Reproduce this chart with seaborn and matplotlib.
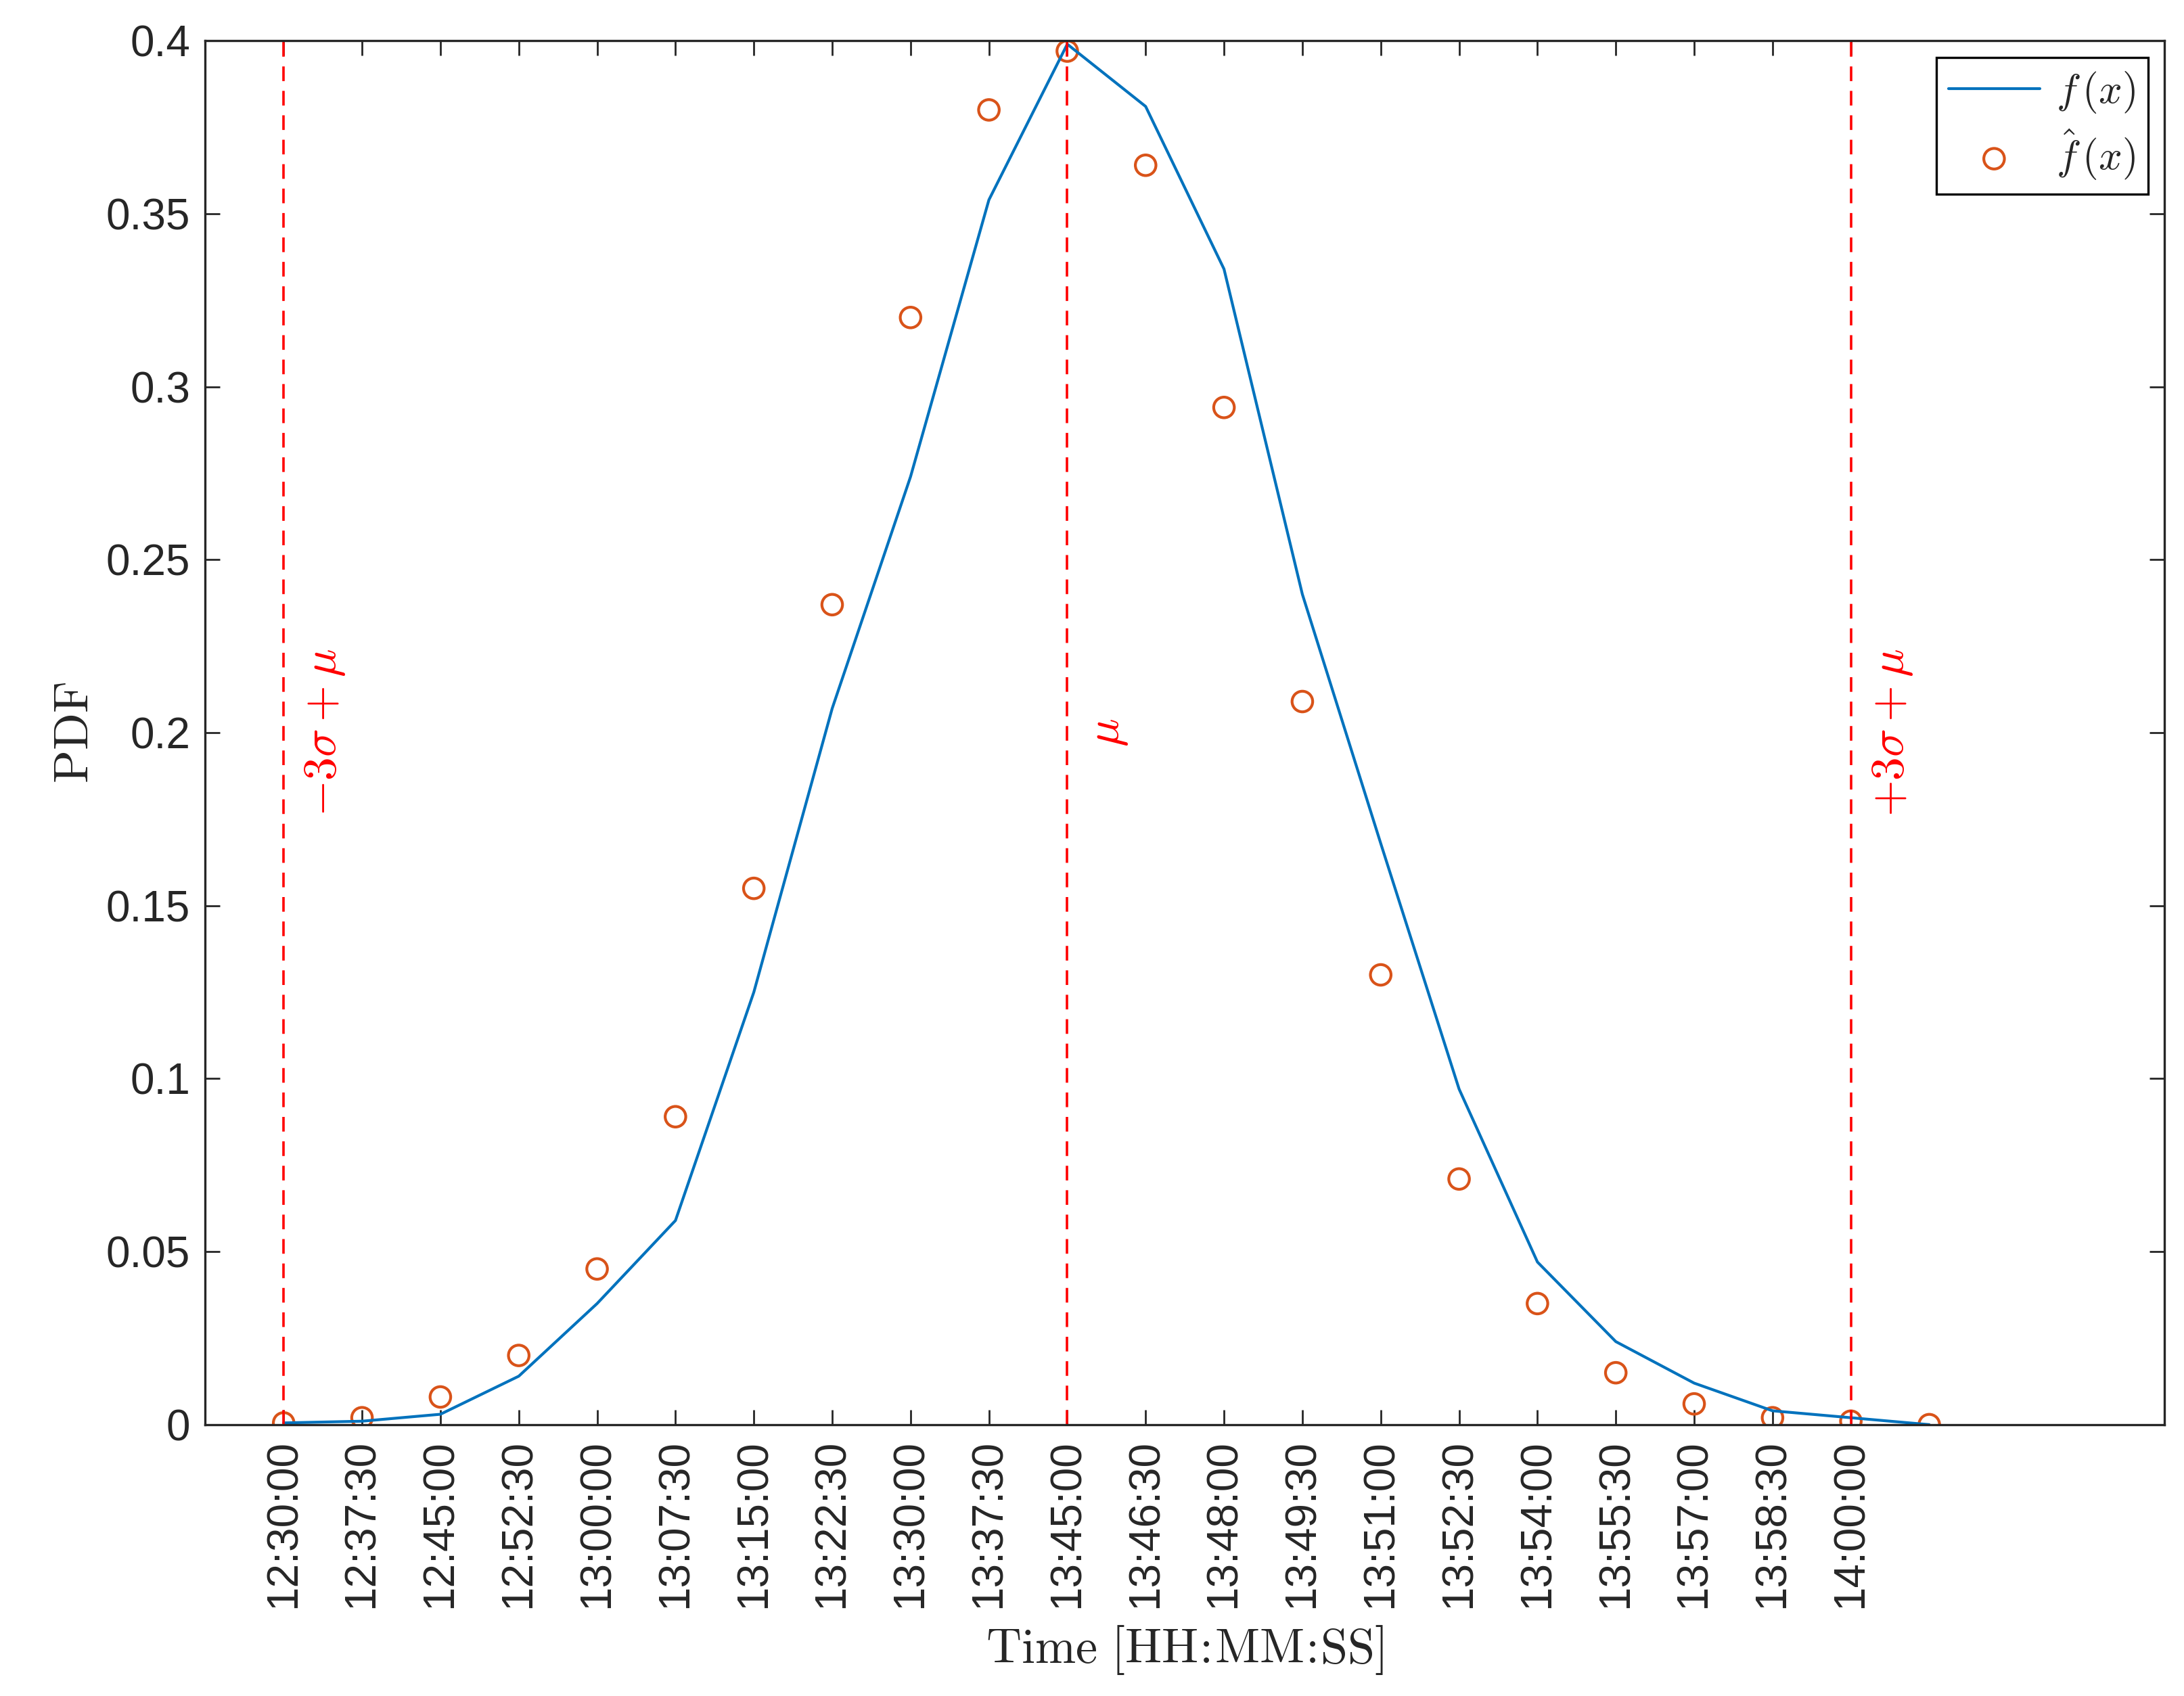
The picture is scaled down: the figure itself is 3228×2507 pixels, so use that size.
import matplotlib
matplotlib.use("Agg")
import matplotlib.pyplot as plt
import seaborn as sns
import numpy as np

tick_labels = ["12:30:00", "12:37:30", "12:45:00", "12:52:30", "13:00:00", "13:07:30",
               "13:15:00", "13:22:30", "13:30:00", "13:37:30", "13:45:00", "13:46:30",
               "13:48:00", "13:49:30", "13:51:00", "13:52:30", "13:54:00", "13:55:30",
               "13:57:00", "13:58:30", "14:00:00"]
pdf_fit = [0.0005, 0.001, 0.003, 0.014, 0.035, 0.059, 0.125, 0.207, 0.274, 0.354, 0.399,
           0.381, 0.334, 0.240, 0.168, 0.097, 0.047, 0.024, 0.012, 0.004, 0.002, 0.0]
pdf_est = [0.0005, 0.002, 0.008, 0.020, 0.045, 0.089, 0.155, 0.237, 0.320, 0.380, 0.397,
           0.364, 0.294, 0.209, 0.130, 0.071, 0.035, 0.015, 0.006, 0.002, 0.001, 0.0]
xs = list(range(len(pdf_fit)))
vlines = [0, 10, 20]
vtexts = [r"$-3\sigma+\mu$", r"$\mu$", r"$+3\sigma+\mu$"]

sns.set_style("ticks")
plt.rcParams["font.family"] = ["Liberation Sans", "DejaVu Sans"]
plt.rcParams["mathtext.fontset"] = "cm"
plt.rcParams["xtick.direction"] = "in"
plt.rcParams["ytick.direction"] = "in"

fig = plt.figure(figsize=(16.14, 12.535), dpi=200)
ax = fig.add_axes([0.094, 0.160, 0.897, 0.816])

sns.lineplot(x=xs, y=pdf_fit, ax=ax, color="#0072BD", lw=1.5, label=r"$f\,(x)$")
sns.scatterplot(x=xs, y=pdf_est, ax=ax, marker="o", s=120, facecolor="none",
                edgecolor="#D95319", linewidth=1.5, label=r"$\hat{f}\,(x)$")

for v, t in zip(vlines, vtexts):
    ax.axvline(v, color="red", ls=(0, (6, 4)), lw=1.3)
    ax.text(v + 0.25, 0.2, t, color="red", rotation=90, fontsize=25,
            ha="left", va="center")

ax.set_xlim(-1, 24)
ax.set_ylim(0, 0.4)
ax.set_xticks(range(len(tick_labels)))
ax.set_xticklabels(tick_labels, rotation=90, fontsize=23)
ax.set_yticks(np.arange(0, 0.41, 0.05))
ax.set_yticklabels(["0", "0.05", "0.1", "0.15", "0.2", "0.25", "0.3", "0.35", "0.4"], fontsize=23)
ax.tick_params(top=True, right=True, length=8, width=1, pad=8)
for s in ax.spines.values():
    s.set_linewidth(1.2)
ax.set_xlabel(r"$\mathrm{Time\ [HH\!:\!MM\!:\!SS]}$", fontsize=26, labelpad=8)
ax.set_ylabel(r"$\mathrm{PDF}$", fontsize=26)
leg = ax.legend(loc="upper right", fontsize=22, fancybox=False, edgecolor="black",
                framealpha=1, handlelength=2.2, borderaxespad=0.4, borderpad=0.3,
                handletextpad=0.4, labelspacing=0.3)
leg.get_frame().set_linewidth(1.2)

fig.savefig("out.png", dpi=200)
